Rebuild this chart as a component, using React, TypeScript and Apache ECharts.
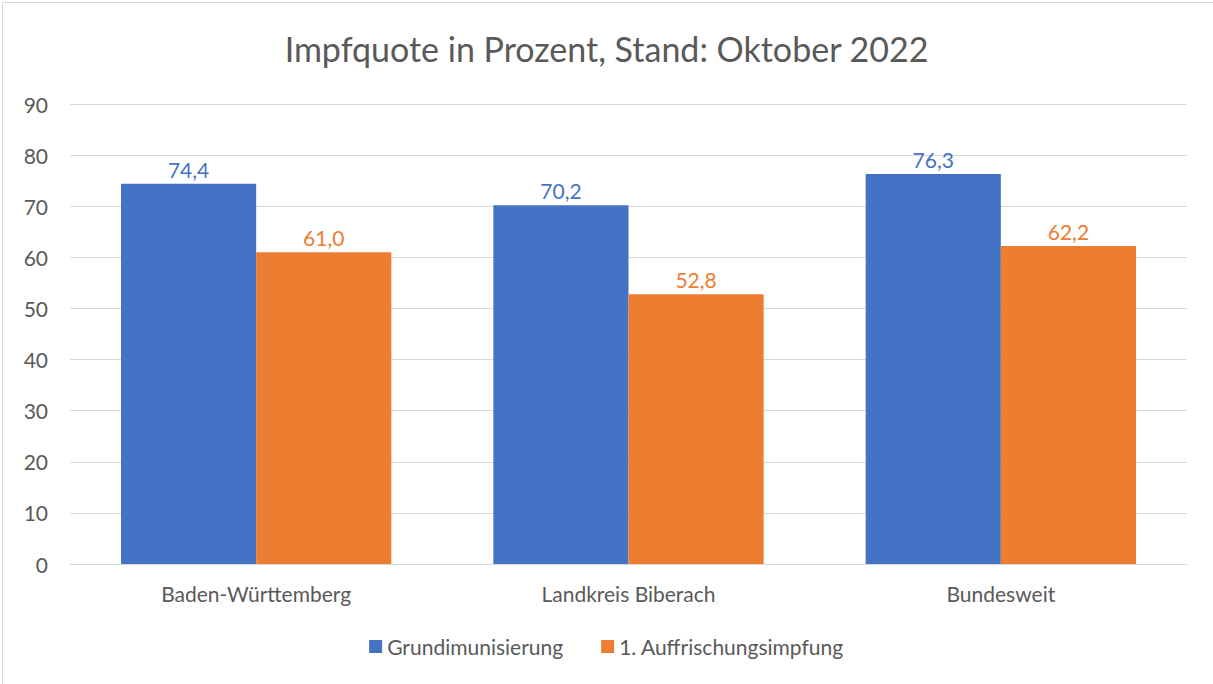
import React, { useEffect, useRef } from "react";
import * as echarts from "echarts";

const categories = ["Baden-Württemberg", "Landkreis Biberach", "Bundesweit"];
const grund = [74.4, 70.2, 76.3];
const auffrischung = [61.0, 52.8, 62.2];
const seriesNames = ["Grundimunisierung", "1. Auffrischungsimpfung"];
const titleText = "Impfquote in Prozent, Stand: Oktober 2022";

const FONT = "Lato, 'Open Sans', sans-serif";
const GRAY = "#595959";
const FS = 21;

export default function App() {
  const ref = useRef<HTMLDivElement>(null);
  useEffect(() => {
    document.body.style.margin = "0";
    const chart = echarts.init(ref.current!, null, { renderer: "svg" });
    const labelFmt = (p: any) => Number(p.value).toFixed(1).replace(".", ",");
    chart.setOption({
      animation: false,
      backgroundColor: "#ffffff",
      title: {
        text: titleText,
        left: "center",
        top: 26,
        textStyle: { fontFamily: FONT, fontSize: 34, fontWeight: "normal", color: GRAY },
      },
      legend: {
        bottom: 22,
        left: "center",
        itemWidth: 13,
        itemHeight: 13,
        itemGap: 38,
        icon: "rect",
        textStyle: { fontFamily: FONT, fontSize: FS, color: GRAY },
        data: seriesNames,
      },
      grid: { left: 70, right: 26, top: 104, bottom: 120, containLabel: false },
      xAxis: {
        type: "category",
        data: categories,
        axisLine: { lineStyle: { color: "#D9D9D9" } },
        axisTick: { show: false },
        axisLabel: { fontFamily: FONT, fontSize: FS, color: GRAY, margin: 19 },
      },
      yAxis: {
        type: "value",
        min: 0,
        max: 90,
        interval: 10,
        axisLine: { show: false },
        axisTick: { show: false },
        splitLine: { lineStyle: { color: "#D9D9D9" } },
        axisLabel: { fontFamily: FONT, fontSize: FS, color: GRAY, margin: 22 },
      },
      series: [
        {
          name: seriesNames[0],
          type: "bar",
          data: grund,
          barGap: "0%",
          barCategoryGap: "27.4%",
          itemStyle: { color: "#4472C4" },
          label: { show: true, position: "top", formatter: labelFmt, fontFamily: FONT, fontSize: FS, color: "#4472C4", distance: 4 },
        },
        {
          name: seriesNames[1],
          type: "bar",
          data: auffrischung,
          barGap: "0%",
          barCategoryGap: "27.4%",
          itemStyle: { color: "#ED7D31" },
          label: { show: true, position: "top", formatter: labelFmt, fontFamily: FONT, fontSize: FS, color: "#ED7D31", distance: 4 },
        },
      ],
      graphic: [
        {
          type: "rect",
          left: 0,
          top: 0,
          shape: { x: 0.5, y: 0.5, width: 1211, height: 682 },
          style: { fill: "none", stroke: "#D9D9D9", lineWidth: 1 },
          silent: true,
        },
      ],
    });
    return () => chart.dispose();
  }, []);
  return <div ref={ref} style={{ width: 1213, height: 684 }} />;
}
